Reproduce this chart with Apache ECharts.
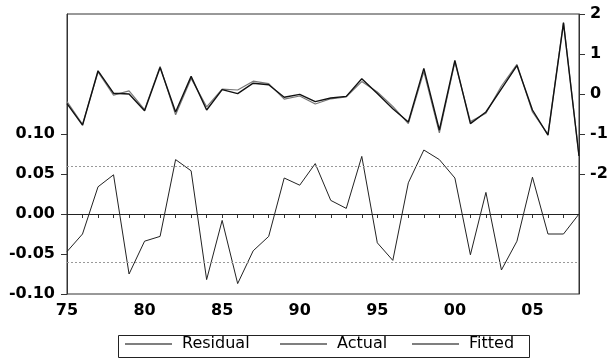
<!DOCTYPE html>
<html>
<head>
<meta charset="utf-8">
<script src="https://cdn.jsdelivr.net/npm/echarts@6/dist/echarts.min.js"></script>
<style>
html, body { margin: 0; padding: 0; background: #fff; }
#chart { width: 614px; height: 358px; }
</style>
</head>
<body>
<div id="chart"></div>
<script>
var years = [1975, 1976, 1977, 1978, 1979, 1980, 1981, 1982, 1983, 1984,
	1985, 1986, 1987, 1988, 1989, 1990, 1991, 1992, 1993, 1994,
	1995, 1996, 1997, 1998, 1999, 2000, 2001, 2002, 2003, 2004,
	2005, 2006, 2007, 2008];

// residual, left axis
var residual = [-0.047, -0.025, 0.034, 0.049, -0.075, -0.034, -0.028, 0.068, 0.054, -0.082,
	-0.008, -0.087, -0.046, -0.028, 0.045, 0.036, 0.063, 0.017, 0.007, 0.072,
	-0.036, -0.058, 0.039, 0.080, 0.068, 0.045, -0.051, 0.027, -0.070, -0.034,
	0.046, -0.025, -0.025, 0.000];

// actual / fitted, right axis
var actual = [-0.24, -0.78, 0.58, 0.02, 0.00, -0.42, 0.66, -0.45, 0.44, -0.40,
	0.11, 0.01, 0.27, 0.23, -0.08, -0.01, -0.19, -0.10, -0.06, 0.38,
	0.01, -0.37, -0.70, 0.64, -0.90, 0.84, -0.74, -0.45, 0.13, 0.71,
	-0.40, -1.03, 1.77, -1.55];

var fitted = [-0.19, -0.76, 0.55, -0.03, 0.08, -0.39, 0.69, -0.52, 0.39, -0.32,
	0.12, 0.10, 0.32, 0.26, -0.13, -0.05, -0.25, -0.12, -0.07, 0.31,
	0.05, -0.31, -0.74, 0.56, -0.97, 0.80, -0.69, -0.48, 0.20, 0.74,
	-0.45, -1.01, 1.80, -1.55];

var leftTicks = [-0.10, -0.05, 0.00, 0.05, 0.10];
var rightTicks = [-2, -1, 0, 1, 2];
var seBand = [0.06, -0.06];

var axisFont = {
	color : '#000',
	fontFamily : 'DejaVu Sans',
	fontWeight : 'bold',
	fontSize : 16
};

// one legend per series so each sits where the original puts it
function legendAt(name, left) {
	return {
		left : left,
		top : 336,
		padding : 0,
		itemWidth : 47,
		itemHeight : 1,
		icon : 'rect',
		textStyle : {
			color : '#000',
			fontFamily : 'DejaVu Sans',
			fontSize : 16,
			padding : [ 0, 0, 0, 5 ]
		},
		data : [ name ]
	};
}

var chart = echarts.init(document.getElementById('chart'));

var option = {
	animation : false,
	backgroundColor : '#fff',
	grid : {
		left : 67,
		right : 35,
		top : 14,
		bottom : 64,
		show : true,
		borderColor : '#333',
		borderWidth : 1
	},
	graphic : [ {
		type : 'rect',
		left : 116,
		top : 333,
		shape : { width : 411, height : 22 },
		style : { fill : 'none', stroke : '#222', lineWidth : 1 },
		silent : true
	} ],
	legend : [ legendAt('Residual', 125), legendAt('Actual', 280), legendAt('Fitted', 412) ],
	xAxis : {
		type : 'category',
		data : years,
		boundaryGap : false,
		axisLine : { lineStyle : { color : '#333', width : 1 } },
		axisTick : { interval : 0, length : 4, lineStyle : { color : '#333' } },
		axisLabel : Object.assign({
			interval : 4,
			margin : 9,
			formatter : function(v) {
				return String(v).slice(2);
			}
		}, axisFont),
		splitLine : { show : false }
	},
	yAxis : [ {
		type : 'value',
		min : -0.10,
		max : 0.25,
		axisLine : { show : true, lineStyle : { color : '#333' } },
		axisTick : { show : true, length : 6, customValues : leftTicks, lineStyle : { color : '#333' } },
		axisLabel : Object.assign({
			margin : 12,
			customValues : leftTicks,
			formatter : function(v) {
				return v.toFixed(2);
			}
		}, axisFont),
		splitLine : { show : false }
	}, {
		type : 'value',
		min : -5,
		max : 2,
		position : 'right',
		axisLine : { show : true, lineStyle : { color : '#333' } },
		axisTick : { show : true, length : 6, customValues : rightTicks, lineStyle : { color : '#333' } },
		axisLabel : Object.assign({
			margin : 11,
			customValues : rightTicks,
			formatter : function(v) {
				return String(v);
			}
		}, axisFont),
		splitLine : { show : false }
	} ],
	series : [ {
		name : 'Residual',
		type : 'line',
		yAxisIndex : 0,
		data : residual,
		symbol : 'none',
		lineStyle : { color : '#222', width : 1 },
		itemStyle : { color : '#000' },
		z : 3,
		markLine : {
			silent : true,
			symbol : [ 'none', 'none' ],
			label : { show : false },
			data : [ {
				yAxis : 0,
				lineStyle : { color : '#222', width : 1, type : 'solid' }
			}, {
				yAxis : seBand[0],
				lineStyle : { color : '#999', width : 1, type : [ 2, 2 ] }
			}, {
				yAxis : seBand[1],
				lineStyle : { color : '#999', width : 1, type : [ 2, 2 ] }
			} ]
		}
	}, {
		name : 'Actual',
		type : 'line',
		yAxisIndex : 1,
		data : actual,
		symbol : 'none',
		lineStyle : { color : '#111', width : 1.4 },
		itemStyle : { color : '#000' },
		z : 4
	}, {
		name : 'Fitted',
		type : 'line',
		yAxisIndex : 1,
		data : fitted,
		symbol : 'none',
		lineStyle : { color : '#777', width : 1.2 },
		itemStyle : { color : '#000' },
		z : 3
	} ]
};

chart.setOption(option);
</script>
</body>
</html>
